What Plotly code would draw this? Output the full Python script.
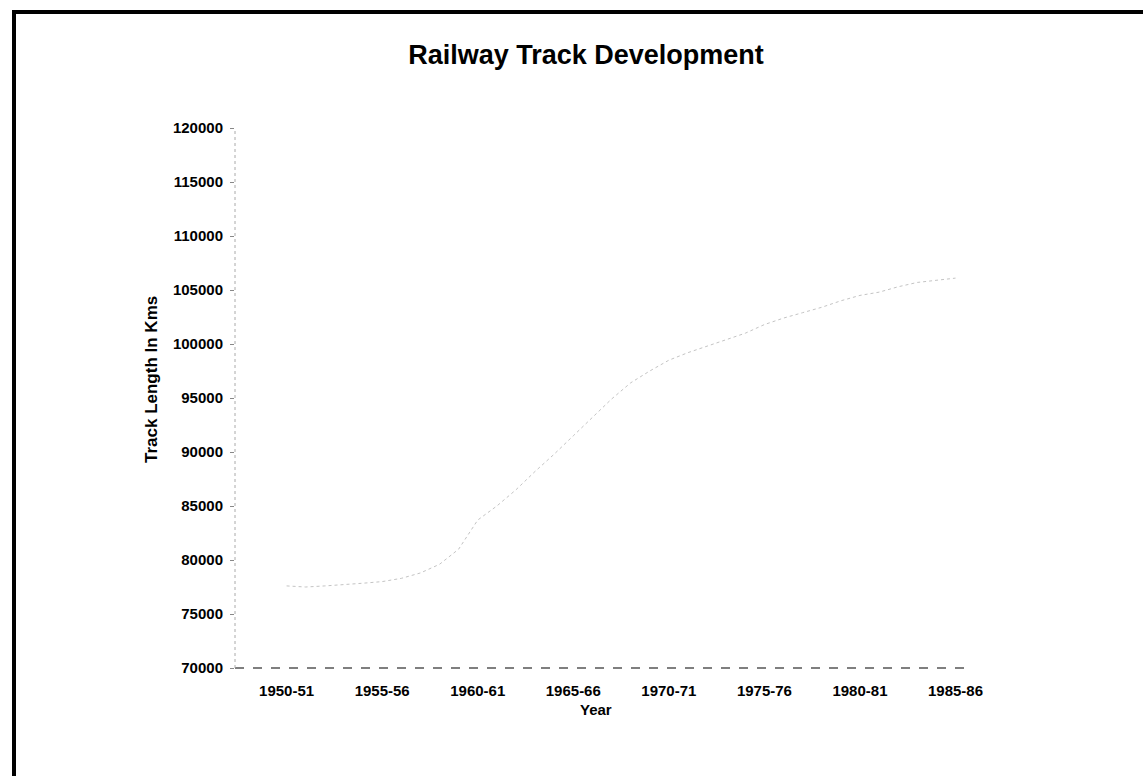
import plotly.graph_objects as go

# Railway track length by year (km)
years = [
    "1950-51", "1951-52", "1952-53", "1953-54", "1954-55", "1955-56",
    "1956-57", "1957-58", "1958-59", "1959-60", "1960-61", "1961-62",
    "1962-63", "1963-64", "1964-65", "1965-66", "1966-67", "1967-68",
    "1968-69", "1969-70", "1970-71", "1971-72", "1972-73", "1973-74",
    "1974-75", "1975-76", "1976-77", "1977-78", "1978-79", "1979-80",
    "1980-81", "1981-82", "1982-83", "1983-84", "1984-85", "1985-86",
]
track_km = [
    77600, 77500, 77600, 77700, 77850, 78000,
    78300, 78800, 79600, 81000, 83700, 85000,
    86500, 88200, 89800, 91500, 93200, 94900,
    96400, 97500, 98500, 99200, 99800, 100400,
    101000, 101800, 102400, 102900, 103400, 104000,
    104500, 104800, 105300, 105700, 105900, 106100,
]
tick_years = ["1950-51", "1955-56", "1960-61", "1965-66",
              "1970-71", "1975-76", "1980-81", "1985-86"]
y_ticks = [70000, 75000, 80000, 85000, 90000, 95000,
           100000, 105000, 110000, 115000, 120000]

W, H = 1143, 776
ML, MR, MT, MB = 235, 176, 128, 108
PW, PH = W - ML - MR, H - MT - MB


def px(x):
    return (x - ML) / PW


def py(y):
    return (H - MB - y) / PH


FONT = "Arial, Liberation Sans, Helvetica, sans-serif"

fig = go.Figure()
fig.add_trace(go.Scatter(
    x=list(range(len(years))),
    y=track_km,
    mode="lines",
    line=dict(color="#c4c4c4", width=1, dash="dot"),
    hoverinfo="skip",
    showlegend=False,
))

fig.update_layout(
    width=W, height=H,
    margin=dict(l=ML, r=MR, t=MT, b=MB, pad=0),
    paper_bgcolor="white", plot_bgcolor="white",
    title=dict(text="<b>Railway Track Development</b>", x=586 / W, xanchor="center",
               y=1 - 55 / H, yanchor="middle",
               font=dict(family=FONT, size=27, color="black")),
    xaxis=dict(
        range=[-2.7, 35.6],
        tickmode="array",
        tickvals=[years.index(t) for t in tick_years],
        ticktext=[f"<b>{t}</b>" for t in tick_years],
        ticks="", showgrid=False, zeroline=False, showline=False,
        tickfont=dict(family=FONT, size=15, color="black"),
        ticklabelstandoff=12,
    ),
    yaxis=dict(
        range=[70000, 120000],
        tickmode="array",
        tickvals=y_ticks,
        ticktext=[f"<b>{v}</b>" for v in y_ticks],
        ticks="outside", ticklen=4, tickcolor="#888", tickwidth=1,
        showgrid=False, zeroline=False, showline=False,
        tickfont=dict(family=FONT, size=15, color="black"),
        ticklabelstandoff=4,
    ),
    annotations=[
        dict(text="<b>Year</b>", xref="paper", yref="paper",
             x=px(596), y=py(709), xanchor="center", yanchor="middle",
             showarrow=False, font=dict(family=FONT, size=15, color="black")),
        dict(text="<b>Track Length In Kms</b>", xref="paper", yref="paper",
             x=px(151), y=py(380), xanchor="center", yanchor="middle",
             textangle=-90, showarrow=False,
             font=dict(family=FONT, size=17, color="black")),
    ],
    shapes=[
        # axis lines
        dict(type="line", xref="paper", yref="paper", x0=0, x1=1, y0=0, y1=0,
             line=dict(color="#555", width=1.5, dash="dash")),
        dict(type="line", xref="paper", yref="paper", x0=0, x1=0, y0=0, y1=1,
             line=dict(color="#aaa", width=1, dash="dot")),
        # frame around the page
        dict(type="line", xref="paper", yref="paper",
             x0=px(14), x1=px(14), y0=py(H), y1=py(12),
             line=dict(color="black", width=4)),
        dict(type="line", xref="paper", yref="paper",
             x0=px(12), x1=px(W), y0=py(12), y1=py(12),
             line=dict(color="black", width=4)),
    ],
)

fig.write_html("out.html")
